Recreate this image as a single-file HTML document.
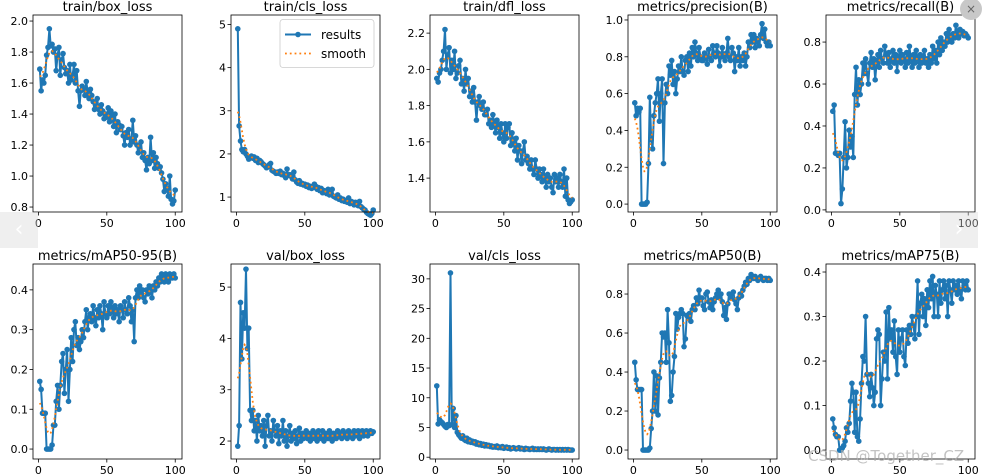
<!DOCTYPE html>
<html><head><meta charset="utf-8">
<style>
body{margin:0;background:#fff;}
svg{display:block;font-family:"DejaVu Sans","Liberation Sans",sans-serif;}
</style></head>
<body>
<svg id="fig" width="986" height="474" viewBox="0 0 986 474"></svg>
<script>
const epochs = Array.from({length:100},(_,i)=>i+1);
const xTicks = [0,50,100];
const trainBoxLoss = [1.69,1.55,1.62,1.60,1.65,1.78,1.83,1.95,1.84,1.85,
1.80,1.82,1.68,1.78,1.83,1.65,1.75,1.79,1.70,1.66,
1.68,1.60,1.72,1.62,1.65,1.72,1.60,1.68,1.55,1.45,
1.55,1.58,1.56,1.52,1.61,1.54,1.50,1.56,1.52,1.48,
1.43,1.45,1.50,1.43,1.40,1.46,1.42,1.37,1.40,1.38,
1.44,1.35,1.42,1.38,1.32,1.40,1.28,1.35,1.33,1.30,
1.32,1.26,1.20,1.28,1.25,1.30,1.20,1.24,1.36,1.22,
1.26,1.20,1.15,1.18,1.22,1.12,1.15,1.10,1.04,1.12,
1.08,1.25,1.10,1.15,1.05,1.12,1.08,1.05,1.06,1.02,
0.98,0.90,0.95,0.92,0.87,1.00,0.85,0.82,0.84,0.91];
const trainClsLoss = [4.90,2.65,2.30,2.10,2.05,2.10,2.00,1.95,1.88,1.92,
1.95,1.90,1.93,1.85,1.90,1.80,1.85,1.82,1.78,1.75,
1.72,1.68,1.70,1.75,1.78,1.62,1.60,1.58,1.55,1.58,
1.55,1.60,1.52,1.55,1.50,1.45,1.65,1.50,1.52,1.48,
1.42,1.58,1.40,1.35,1.32,1.38,1.30,1.32,1.28,1.30,
1.25,1.28,1.22,1.25,1.20,1.22,1.30,1.25,1.18,1.22,
1.15,1.20,1.10,1.15,1.12,1.08,1.18,1.05,1.10,1.18,
1.02,1.00,0.98,1.05,0.95,0.98,0.92,0.95,0.90,0.92,
0.88,0.98,0.85,0.90,0.88,0.82,0.88,0.85,0.80,0.90,
0.78,0.75,0.72,0.70,0.65,0.62,0.60,0.58,0.62,0.70];
const trainDflLoss = [1.95,1.93,1.98,2.00,2.05,2.10,2.22,2.00,2.08,2.12,
1.98,2.05,2.00,2.10,1.95,1.98,2.02,2.05,1.92,1.95,
1.88,2.00,1.92,1.95,1.85,1.88,1.82,1.90,1.82,1.72,
1.82,1.85,1.80,1.78,1.82,1.75,1.75,1.78,1.70,1.72,
1.68,1.75,1.70,1.65,1.72,1.68,1.62,1.70,1.65,1.60,
1.70,1.62,1.68,1.70,1.58,1.65,1.60,1.55,1.62,1.50,
1.58,1.55,1.48,1.55,1.60,1.50,1.52,1.48,1.45,1.50,
1.45,1.42,1.50,1.45,1.40,1.45,1.42,1.38,1.45,1.40,
1.35,1.42,1.38,1.40,1.35,1.32,1.42,1.38,1.40,1.35,
1.42,1.38,1.35,1.45,1.30,1.40,1.28,1.26,1.27,1.28];
const precision = [0.55,0.48,0.52,0.50,0.52,0.00,0.00,0.00,0.00,0.01,
0.22,0.58,0.35,0.30,0.48,0.55,0.60,0.68,0.45,0.60,
0.68,0.22,0.55,0.65,0.60,0.75,0.70,0.78,0.65,0.72,
0.60,0.68,0.75,0.72,0.80,0.72,0.70,0.78,0.80,0.72,
0.82,0.75,0.85,0.80,0.88,0.82,0.78,0.85,0.80,0.78,
0.78,0.82,0.80,0.76,0.84,0.80,0.78,0.86,0.82,0.80,
0.86,0.82,0.75,0.80,0.85,0.80,0.78,0.82,0.90,0.80,
0.78,0.85,0.82,0.72,0.80,0.78,0.85,0.75,0.80,0.78,
0.82,0.75,0.80,0.88,0.85,0.92,0.88,0.92,0.85,0.90,
0.88,0.86,0.92,0.98,0.90,0.95,0.88,0.86,0.88,0.86];
const recall = [0.47,0.50,0.27,0.27,0.26,0.27,0.03,0.10,0.25,0.42,
0.20,0.25,0.38,0.30,0.35,0.25,0.55,0.68,0.50,0.62,
0.55,0.60,0.70,0.65,0.72,0.65,0.60,0.70,0.75,0.68,
0.72,0.62,0.70,0.74,0.68,0.76,0.72,0.70,0.78,0.74,
0.70,0.75,0.68,0.72,0.76,0.70,0.74,0.66,0.72,0.76,
0.70,0.74,0.72,0.68,0.75,0.70,0.78,0.72,0.68,0.74,
0.70,0.76,0.72,0.68,0.74,0.70,0.72,0.76,0.70,0.72,
0.68,0.74,0.70,0.78,0.72,0.76,0.70,0.80,0.74,0.82,
0.76,0.80,0.78,0.84,0.80,0.86,0.82,0.80,0.84,0.82,
0.88,0.84,0.82,0.86,0.84,0.85,0.83,0.84,0.83,0.82];
const map5095 = [0.17,0.15,0.09,0.09,0.09,0.00,0.00,0.00,0.00,0.01,
0.06,0.06,0.12,0.16,0.10,0.16,0.22,0.24,0.14,0.20,
0.25,0.12,0.20,0.28,0.22,0.30,0.32,0.26,0.28,0.25,
0.27,0.30,0.28,0.32,0.35,0.30,0.33,0.34,0.32,0.36,
0.33,0.31,0.35,0.33,0.36,0.34,0.30,0.37,0.34,0.33,
0.36,0.34,0.37,0.35,0.33,0.36,0.34,0.35,0.32,0.36,
0.35,0.33,0.37,0.35,0.34,0.38,0.36,0.32,0.35,0.27,
0.38,0.40,0.38,0.41,0.39,0.40,0.38,0.37,0.40,0.39,
0.41,0.40,0.38,0.41,0.40,0.42,0.41,0.43,0.42,0.44,
0.43,0.42,0.44,0.43,0.42,0.44,0.43,0.43,0.44,0.43];
const valBoxLoss = [1.90,2.30,4.70,3.60,4.50,4.20,5.35,3.80,4.20,2.60,
2.40,2.60,2.20,2.40,2.00,2.50,2.20,2.30,2.10,2.40,
1.90,2.30,2.50,2.10,2.20,2.00,2.40,2.20,2.10,2.30,
1.95,2.20,2.10,2.40,2.00,2.20,1.90,2.10,2.30,2.00,
2.15,2.05,2.20,1.95,2.10,2.25,2.00,2.15,2.05,2.10,
2.20,2.05,2.15,2.00,2.10,2.20,2.05,2.15,2.00,2.20,
2.10,2.05,2.20,2.00,2.15,2.10,2.05,2.20,2.10,2.00,
2.15,2.10,2.05,2.20,2.10,2.15,2.05,2.20,2.10,2.15,
2.05,2.20,2.10,2.15,2.05,2.20,2.10,2.15,2.20,2.05,
2.15,2.20,2.10,2.15,2.20,2.10,2.15,2.20,2.15,2.18];
const valClsLoss = [12.0,5.6,6.3,6.0,5.8,5.5,5.2,5.0,5.5,5.3,
31.0,5.5,8.2,5.0,7.0,4.2,3.8,3.5,3.2,3.6,
3.0,2.8,3.2,2.6,2.9,2.5,2.7,2.4,2.6,2.2,
2.4,2.1,2.3,2.0,2.2,1.9,2.1,1.9,2.0,1.8,
1.9,1.7,1.8,1.7,1.9,1.6,1.7,1.6,1.8,1.5,
1.6,1.7,1.5,1.6,1.4,1.5,1.6,1.5,1.4,1.5,
1.6,1.4,1.5,1.4,1.3,1.5,1.4,1.4,1.3,1.4,
1.5,1.3,1.4,1.3,1.4,1.3,1.4,1.3,1.4,1.3,
1.2,1.3,1.4,1.3,1.2,1.3,1.3,1.2,1.3,1.2,
1.3,1.2,1.3,1.2,1.3,1.2,1.3,1.2,1.2,1.2];
const map50 = [0.45,0.36,0.31,0.31,0.31,0.31,0.00,0.00,0.00,0.00,
0.00,0.01,0.11,0.20,0.40,0.20,0.38,0.18,0.37,0.45,
0.60,0.58,0.60,0.45,0.72,0.55,0.25,0.28,0.40,0.48,
0.70,0.62,0.68,0.70,0.72,0.70,0.53,0.57,0.69,0.68,
0.70,0.66,0.72,0.74,0.72,0.78,0.75,0.82,0.77,0.78,
0.74,0.72,0.80,0.81,0.76,0.73,0.77,0.72,0.76,0.78,
0.80,0.82,0.78,0.80,0.76,0.69,0.73,0.67,0.75,0.80,
0.78,0.80,0.81,0.77,0.75,0.72,0.78,0.80,0.79,0.82,
0.84,0.86,0.85,0.88,0.87,0.90,0.89,0.88,0.89,0.88,
0.87,0.88,0.89,0.88,0.87,0.88,0.88,0.87,0.88,0.87];
const map75 = [0.07,0.05,0.035,0.03,0.03,0.00,0.00,0.005,0.01,0.02,
0.05,0.04,0.06,0.11,0.15,0.13,0.04,0.13,0.03,0.02,
0.07,0.15,0.21,0.20,0.30,0.17,0.15,0.12,0.17,0.14,
0.10,0.13,0.25,0.27,0.26,0.10,0.16,0.22,0.20,0.31,
0.16,0.32,0.25,0.27,0.22,0.29,0.21,0.17,0.27,0.22,
0.25,0.27,0.21,0.19,0.27,0.24,0.28,0.26,0.30,0.28,
0.25,0.30,0.38,0.26,0.33,0.35,0.30,0.34,0.28,0.36,
0.32,0.38,0.34,0.39,0.30,0.37,0.35,0.30,0.38,0.33,
0.36,0.38,0.34,0.37,0.30,0.38,0.36,0.33,0.38,0.36,
0.37,0.35,0.38,0.36,0.34,0.38,0.37,0.36,0.38,0.36];
const yTicksBox = [0.8,1.0,1.2,1.4,1.6,1.8,2.0];
const yTicksCls = [1,2,3,4,5];
const yTicksDfl = [1.4,1.6,1.8,2.0,2.2];
const yTicksP = [0.0,0.2,0.4,0.6,0.8,1.0];
const yTicksR = [0.0,0.2,0.4,0.6,0.8];
const yTicksM = [0.0,0.1,0.2,0.3,0.4];
const yTicksVB = [2,3,4,5];
const yTicksVC = [0,5,10,15,20,25,30];
const yTicksM50 = [0.0,0.2,0.4,0.6,0.8];

const NS="http://www.w3.org/2000/svg";
const svg=document.getElementById('fig');
function mk(tag,attrs,parent){const e=document.createElementNS(NS,tag);for(const k in attrs)e.setAttribute(k,attrs[k]);(parent||svg).appendChild(e);return e;}
function smooth(y,s){const r=Math.ceil(4*s),n=y.length,out=[];
 for(let i=0;i<n;i++){let a=0,w=0;for(let k=-r;k<=r;k++){let j=i+k;if(j<0)j=-j-1;if(j>=n)j=2*n-j-1;j=Math.max(0,Math.min(n-1,j));const g=Math.exp(-k*k/(2*s*s));a+=g*y[j];w+=g;}out.push(a/w);}return out;}
const W=149;
const panels=[
 {name:'train-box-loss',title:'train/box_loss',y:trainBoxLoss,L:33,T:15,B:212,d:[0.768,2.039],t:yTicksBox,f:1},
 {name:'train-cls-loss',title:'train/cls_loss',y:trainClsLoss,L:231,T:15,B:212,d:[0.654,5.22],t:yTicksCls,f:0,legend:true},
 {name:'train-dfl-loss',title:'train/dfl_loss',y:trainDflLoss,L:430,T:15,B:212,d:[1.213,2.30],t:yTicksDfl,f:1},
 {name:'metrics-precision',title:'metrics/precision(B)',y:precision,L:628,T:15,B:212,d:[-0.043,1.027],t:yTicksP,f:1},
 {name:'metrics-recall',title:'metrics/recall(B)',y:recall,L:826,T:15,B:212,d:[-0.01,0.929],t:yTicksR,f:1},
 {name:'metrics-map50-95',title:'metrics/mAP50-95(B)',y:map5095,L:33,T:264,B:459,d:[-0.025,0.465],t:yTicksM,f:1},
 {name:'val-box-loss',title:'val/box_loss',y:valBoxLoss,L:231,T:264,B:459,d:[1.65,5.45],t:yTicksVB,f:0},
 {name:'val-cls-loss',title:'val/cls_loss',y:valClsLoss,L:430,T:264,B:459,d:[-0.3,32.5],t:yTicksVC,f:0},
 {name:'metrics-map50',title:'metrics/mAP50(B)',y:map50,L:628,T:264,B:459,d:[-0.046,0.954],t:yTicksM50,f:1},
 {name:'metrics-map75',title:'metrics/mAP75(B)',y:map75,L:826,T:264,B:459,d:[-0.02,0.418],t:yTicksM,f:1}
];
panels.forEach(p=>{
 const g=mk('g',{});
 
 
 const x0=-3.95,x1=104.95;
 const sx=v=>p.L+(v-x0)/(x1-x0)*W;
 const sy=v=>p.B-(v-p.d[0])/(p.d[1]-p.d[0])*(p.B-p.T);
 const tt=mk('text',{x:p.L+W/2,y:p.T-4,'text-anchor':'middle','font-size':13,fill:'#000'},g);
 tt.textContent=p.title;
 
 
 xTicks.forEach(v=>{const X=sx(v);mk('line',{x1:X,x2:X,y1:p.B,y2:p.B+3.5,stroke:'#000','stroke-width':0.8},g);
  const t=mk('text',{x:X,y:p.B+15,'text-anchor':'middle','font-size':11},g);t.textContent=v;
  
  });
 p.t.forEach(v=>{const Y=sy(v);mk('line',{x1:p.L-3.5,x2:p.L,y1:Y,y2:Y,stroke:'#000','stroke-width':0.8},g);
  const t=mk('text',{x:p.L-5,y:Y+4,'text-anchor':'end','font-size':11},g);t.textContent=v.toFixed(p.f);
  
  });
 const pts=p.y.map((v,i)=>sx(epochs[i]).toFixed(1)+','+sy(v).toFixed(1)).join(' ');
 const line=mk('polyline',{points:pts,fill:'none',stroke:'#1f77b4','stroke-width':2,'stroke-linejoin':'round'},g);
 
 
 p.y.forEach((v,i)=>{const c=mk('circle',{cx:sx(epochs[i]),cy:sy(v),r:2.8,fill:'#1f77b4'},g);
  
  });
 const sm=smooth(p.y,3);
 const sp=mk('polyline',{points:sm.map((v,i)=>sx(epochs[i]).toFixed(1)+','+sy(v).toFixed(1)).join(' '),fill:'none',stroke:'#ff7f0e','stroke-width':1.8,'stroke-dasharray':'1.8,3'},g);
 
 
 mk('rect',{x:p.L,y:p.T,width:W,height:p.B-p.T,fill:'none',stroke:'#000','stroke-width':0.8},g);
 if(p.legend){
  const lg=mk('g',{});
  
  
  mk('rect',{x:280,y:19.5,width:94,height:48,rx:3,fill:'#fff','fill-opacity':0.8,stroke:'#ccc','stroke-width':0.8},lg);
  mk('line',{x1:285,x2:311,y1:34.5,y2:34.5,stroke:'#1f77b4','stroke-width':2},lg);
  mk('circle',{cx:298,cy:34.5,r:2.8,fill:'#1f77b4'},lg);
  const a=mk('text',{x:321,y:39,'font-size':12},lg);a.textContent='results';
  
  
  mk('line',{x1:285,x2:311,y1:53.5,y2:53.5,stroke:'#ff7f0e','stroke-width':1.8,'stroke-dasharray':'1.8,3'},lg);
  const b=mk('text',{x:321,y:58,'font-size':12},lg);b.textContent='smooth';
  
  
 }
});
</script>
<div style="position:absolute;left:0;top:212px;width:38px;height:36px;background:rgba(215,215,215,0.4);color:#fff;font:22px 'DejaVu Sans',sans-serif;text-align:center;line-height:36px;">‹</div>
<div style="position:absolute;left:940px;top:212px;width:38px;height:36px;background:rgba(215,215,215,0.4);color:#fff;font:22px 'DejaVu Sans',sans-serif;text-align:center;line-height:36px;">›</div>
<div style="position:absolute;left:960px;top:-2px;width:22px;height:22px;border-radius:11px;background:#c8c8c8;color:#666;font:12px 'DejaVu Sans',sans-serif;text-align:center;line-height:22px;">×</div>
<div style="position:absolute;left:808px;top:447px;font:15px 'DejaVu Sans',sans-serif;color:rgba(170,170,170,0.7);">CSDN @Together_CZ</div>
</body></html>
